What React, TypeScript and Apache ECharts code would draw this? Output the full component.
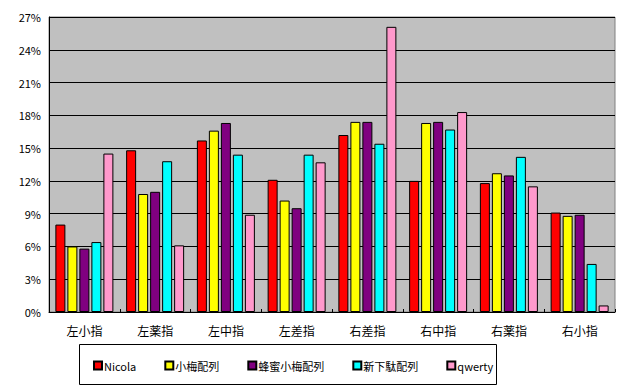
import React, { useEffect, useRef } from "react";
import * as echarts from "echarts";

const categories = ["左小指", "左薬指", "左中指", "左差指", "右差指", "右中指", "右薬指", "右小指"];
const seriesNames = ["Nicola", "小梅配列", "蜂蜜小梅配列", "新下駄配列", "qwerty"];
const nicola = [8.0, 14.8, 15.7, 12.1, 16.2, 12.0, 11.8, 9.1];
const koume = [6.0, 10.8, 16.6, 10.2, 17.4, 17.3, 12.7, 8.8];
const hachimitsu = [5.8, 11.0, 17.3, 9.5, 17.4, 17.4, 12.5, 8.9];
const shingeta = [6.4, 13.8, 14.4, 14.4, 15.4, 16.7, 14.2, 4.4];
const qwerty = [14.5, 6.1, 8.9, 13.7, 26.1, 18.3, 11.5, 0.6];
const colors = ["#ff0000", "#ffff00", "#800080", "#00ffff", "#ff99cc"];
const yTicks = { min: 0, max: 27, interval: 3 };

const FONT = "'Noto Sans CJK JP', 'Noto Sans', sans-serif";

export default function App() {
  const ref = useRef<HTMLDivElement>(null);
  useEffect(() => {
    if (!ref.current) return;
    const chart = echarts.init(ref.current, undefined, { renderer: "svg" });
    const allData = [nicola, koume, hachimitsu, shingeta, qwerty];
    chart.setOption({
      animation: false,
      backgroundColor: "#ffffff",
      textStyle: { fontFamily: FONT },
      grid: {
        left: 49,
        right: 25,
        top: 17,
        bottom: 78,
        show: true,
        backgroundColor: "#c0c0c0",
        borderColor: "#808080",
        borderWidth: 1,
      },
      xAxis: {
        type: "category",
        data: categories,
        boundaryGap: true,
        axisLine: { lineStyle: { color: "#000000", width: 1 } },
        axisTick: { show: true, inside: true, length: 3, lineStyle: { color: "#000000" } },
        axisLabel: { color: "#000000", fontSize: 12, margin: 12, fontFamily: FONT },
        splitLine: { show: false },
      },
      yAxis: {
        type: "value",
        min: yTicks.min,
        max: yTicks.max,
        interval: yTicks.interval,
        axisLine: { show: true, lineStyle: { color: "#000000", width: 1 } },
        axisTick: { show: false },
        axisLabel: {
          color: "#000000",
          fontSize: 11,
          margin: 8,
          fontFamily: FONT,
          formatter: "{value}%",
        },
        splitLine: { show: true, lineStyle: { color: "#000000", width: 1 } },
      },
      legend: {
        left: 88,
        top: 355,
        itemGap: 28,
        itemWidth: 8,
        itemHeight: 8,
        icon: "rect",
        textStyle: { color: "#000000", fontSize: 11, fontFamily: FONT, padding: [0, 0, 0, -3] },
        data: seriesNames,
      },
      graphic: [
        {
          type: "rect",
          left: 77,
          top: 342,
          shape: { width: 417, height: 40 },
          style: { fill: "none", stroke: "#000000", lineWidth: 1 },
          z: -1,
        },
      ],
      series: seriesNames.map((name, i) => ({
        name,
        type: "bar",
        data: allData[i],
        barWidth: 10,
        barGap: "20%",
        itemStyle: { color: colors[i], borderColor: "#000000", borderWidth: 1 },
      })),
    });
    return () => chart.dispose();
  }, []);
  return (
    <div
      ref={ref}
      style={{ position: "fixed", left: 0, top: 0, width: 640, height: 390 }}
    />
  );
}
